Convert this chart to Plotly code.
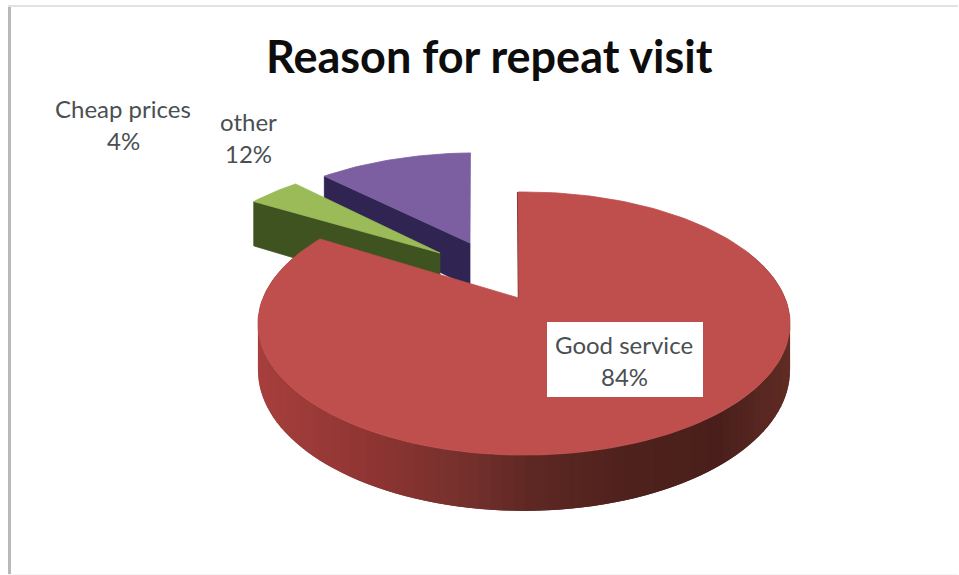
import math
import plotly.graph_objects as go

# Survey results
categories = ["Good service", "Cheap prices", "other"]
shares = [84, 4, 12]

# Slice colours: top face, side face
top_colours = ["#be4f4c", "#9bbb59", "#7c5fa1"]
side_colours = ["#6b2a28", "#3f5321", "#2f2452"]

# Perspective disc model (unit disc -> canvas pixels)
CX, CY = 524.0, 298.0
SCALE_X, SCALE_Y = 261.0, 126.6
DEPTH = 0.194
ROTATION = -1.6
thickness = [45.0, 52.0, 48.0]

# Offset of each slice's apex and arc centre on the unit disc
apex_offsets = [(-0.02, 0.0), (-0.346, 0.382), (-0.226, 0.474)]
arc_offsets = [(0.0, 0.0), (-0.356, 0.382), (-0.236, 0.474)]

# Rim shading along the canvas x position
rim_stops = [
    (253, (168, 64, 61)),
    (373, (143, 53, 51)),
    (473, (116, 48, 44)),
    (540, (94, 39, 35)),
    (640, (78, 33, 28)),
    (723, (74, 31, 27)),
    (790, (96, 44, 36)),
]


def project(u, v, z=0.0):
    w = 1 + DEPTH * v
    return CX + SCALE_X * u / w, CY - SCALE_Y * v / w + z / w


def rim_colour(x):
    for (x0, c0), (x1, c1) in zip(rim_stops, rim_stops[1:]):
        if x <= x1:
            f = max(0.0, (x - x0) / (x1 - x0))
            r, g, b = (round(a + (b - a) * f) for a, b in zip(c0, c1))
            return f"rgb({r},{g},{b})"
    return "rgb(%d,%d,%d)" % rim_stops[-1][1]


def on_rim(deg, offset=(0.0, 0.0)):
    a = math.radians(deg)
    return offset[0] + math.sin(a), offset[1] + math.cos(a)


def polygon(points, colour, edge=0.8):
    xs, ys = zip(*points)
    return go.Scatter(
        x=list(xs) + [xs[0]], y=list(ys) + [ys[0]], mode="lines", fill="toself",
        fillcolor=colour, line=dict(color=colour, width=edge), hoverinfo="skip",
    )


# Angular extent of each slice, clockwise from twelve o'clock
total = sum(shares)
spans = []
start = ROTATION
for value in shares:
    end = start + 360 * value / total
    spans.append((start, end))
    start = end

fig = go.Figure()


def wedge_outline(index):
    start_deg, end_deg = spans[index]
    n = max(4, int((end_deg - start_deg) / 1.5))
    pts = [project(*apex_offsets[index])]
    for i in range(n + 1):
        d = start_deg + (end_deg - start_deg) * i / n
        pts.append(project(*on_rim(d, arc_offsets[index])))
    return pts


def radial_face(index):
    off = apex_offsets[index]
    u, v = on_rim(spans[index][0], arc_offsets[index])
    h = thickness[index]
    return [project(*off), project(u, v), project(u, v, h), project(*off, h)]


# Back slices first so the large slice overlaps them
fig.add_trace(polygon(radial_face(2), side_colours[2]))
fig.add_trace(polygon(wedge_outline(2), top_colours[2]))
fig.add_trace(polygon(radial_face(1), side_colours[1]))
fig.add_trace(polygon(wedge_outline(1), top_colours[1]))

# Shaded rim of the large slice; each strip overlaps the next to hide seams
steps = 150
s0, s1 = spans[0]
h0 = thickness[0]
for i in range(steps):
    d0 = s0 + (s1 - s0) * i / steps
    d1 = s0 + (s1 - s0) * (i + 2) / steps
    a, b = on_rim(d0, arc_offsets[0]), on_rim(min(d1, s1), arc_offsets[0])
    if a[1] > 0.35 and b[1] > 0.35:
        continue
    strip = [project(*a), project(*b), project(*b, h0), project(*a, h0)]
    fig.add_trace(polygon(strip, rim_colour(strip[0][0]), edge=0))

# Thin visible edge of the cut next to the gap
cut = [project(*apex_offsets[0]), project(*on_rim(s0, arc_offsets[0]))]
fig.add_trace(go.Scatter(
    x=[p[0] for p in cut], y=[p[1] for p in cut], mode="lines",
    line=dict(color=side_colours[0], width=2), hoverinfo="skip",
))

fig.add_trace(polygon(wedge_outline(0), top_colours[0]))

# Label box on the large slice and the frame around the chart
shapes = [
    dict(type="rect", x0=547, x1=703, y0=322, y1=397, fillcolor="white", line=dict(width=0), layer="above"),
    dict(type="rect", x0=8, x1=11, y0=5, y1=575, fillcolor="#b9b9b9", line=dict(width=0), layer="below"),
    dict(type="rect", x0=8, x1=958, y0=5, y1=7, fillcolor="#e2e2e2", line=dict(width=0), layer="below"),
    dict(type="rect", x0=8, x1=958, y0=574, y1=575, fillcolor="#f4f4f4", line=dict(width=0), layer="below"),
]

label_font = dict(family="Lato, Carlito, sans-serif", size=24, color="#4a4f52")
label_positions = {"Good service": (624, 344, 376), "Cheap prices": (123, 108, 140), "other": (248, 121, 153)}
annotations = []
for name, value in zip(categories, shares):
    x, y_name, y_value = label_positions[name]
    annotations.append(dict(x=x, y=y_name, text=name, showarrow=False, font=label_font))
    annotations.append(dict(x=x, y=y_value, text=f"{value}%", showarrow=False, font=label_font))
annotations.append(dict(
    x=489.5, y=56, text="<b>Reason for repeat visit</b>", showarrow=False,
    font=dict(family="Lato, Carlito, sans-serif", size=45, color="#0d0d0d"),
))

fig.update_layout(
    width=959, height=575, autosize=False,
    margin=dict(l=0, r=0, t=0, b=0),
    paper_bgcolor="white", plot_bgcolor="white", showlegend=False,
    xaxis=dict(range=[0, 959], visible=False, fixedrange=True),
    yaxis=dict(range=[575, 0], visible=False, fixedrange=True),
    shapes=shapes, annotations=annotations,
)

fig.write_html("out.html", config={"displayModeBar": False})
